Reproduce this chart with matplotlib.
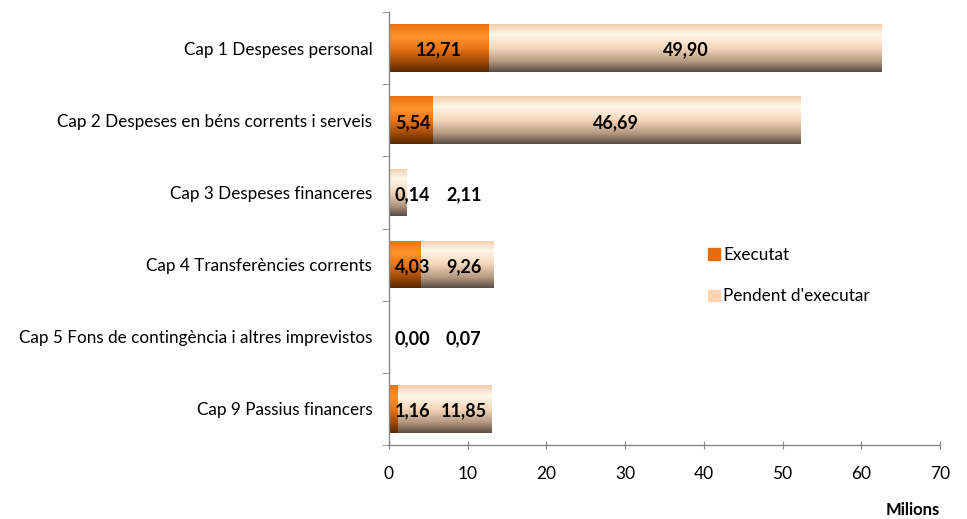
import numpy as np
import matplotlib
matplotlib.use("Agg")
import matplotlib.pyplot as plt
from matplotlib.patches import Rectangle

plt.rcParams['font.family'] = ['Lato', 'DejaVu Sans']

categories = [
    "Cap 1 Despeses personal",
    "Cap 2 Despeses en béns corrents i serveis",
    "Cap 3 Despeses financeres",
    "Cap 4 Transferències corrents",
    "Cap 5 Fons de contingència i altres imprevistos",
    "Cap 9 Passius financers",
]
executat = [12.71, 5.54, 0.14, 4.03, 0.00, 1.16]
pendent = [49.90, 46.69, 2.11, 9.26, 0.07, 11.85]
series_names = ["Executat", "Pendent d'executar"]
xticks = [0, 10, 20, 30, 40, 50, 60, 70]
xlabel = "Milions"

W, H = 967, 519
fig = plt.figure(figsize=(W / 100, H / 100), dpi=100)
ax = fig.add_axes([389 / W, 1 - 445 / H, (940 - 389) / W, (445 - 12) / H])

y = np.arange(len(categories))
bh = 0.66

def hexrgb(h):
    h = h.lstrip('#')
    return np.array([int(h[i:i + 2], 16) / 255 for i in (0, 2, 4)])

def gradient(stops, n=100):
    pos = np.array([s[0] for s in stops])
    cols = np.array([hexrgb(s[1]) for s in stops])
    t = np.linspace(0, 1, n)
    arr = np.stack([np.interp(t, pos, cols[:, k]) for k in range(3)], axis=1)
    return arr[:, None, :]

grad_exec = gradient([(0, '#EC720E'), (0.25, '#FF922C'), (0.5, '#EC7616'),
                      (0.78, '#A04A08'), (1.0, '#552702')])
grad_pend = gradient([(0, '#F4CCAA'), (0.22, '#FFF8EA'), (0.5, '#F6D6BA'),
                      (0.78, '#B49882'), (1.0, '#5A4C44')])

bars1 = ax.barh(y, executat, height=bh, color='#E46C0A', linewidth=0)
bars2 = ax.barh(y, pendent, left=executat, height=bh, color='#FCD5B5', linewidth=0)

for bars, grad in ((bars1, grad_exec), (bars2, grad_pend)):
    for b in bars:
        x0, y0, w, h = b.get_x(), b.get_y(), b.get_width(), b.get_height()
        if w <= 0:
            continue
        im = ax.imshow(grad, extent=(x0, x0 + w, y0 + h, y0), origin='upper',
                       aspect='auto', interpolation='bilinear', zorder=2)
        im.set_clip_path(b)

ax.set_xlim(0, 70)
ax.set_ylim(len(categories) - 0.5, -0.5)
ax.set_aspect('auto')

# value labels
for i, (a, b) in enumerate(zip(executat, pendent)):
    x1 = max(a / 2, 3.0)
    x2 = max(a + b / 2, x1 + 6.5)
    for xv, v in ((x1, a), (x2, b)):
        ax.text(xv, i + 0.03, f"{v:.2f}".replace('.', ','), ha='center', va='center',
                fontsize=13, fontweight='bold', color='black', zorder=5)

ax.set_yticks(y)
ax.set_yticklabels(categories, fontsize=12.3)
ax.set_yticks(np.arange(len(categories) + 1) - 0.5, minor=True)
ax.tick_params(axis='y', which='major', length=0, pad=12)
ax.tick_params(axis='y', which='minor', length=5, color='#868686', direction='out')
ax.set_xticks(xticks)
ax.set_xticklabels([str(t) for t in xticks], fontsize=12.5)
ax.tick_params(axis='x', length=6, color='#868686', pad=12, direction='inout')

for s in ('top', 'right'):
    ax.spines[s].set_visible(False)
for s in ('left', 'bottom'):
    ax.spines[s].set_color('#868686')
    ax.spines[s].set_linewidth(1.0)

handles = [Rectangle((0, 0), 1, 1, color='#E46C0A'),
           Rectangle((0, 0), 1, 1, color='#FCD5B5')]
leg = fig.legend(handles, series_names, loc='upper left',
                 bbox_to_anchor=(701 / W, 1 - 240 / H), frameon=False,
                 fontsize=12.3, handlelength=0.7, handleheight=0.7,
                 handletextpad=0.2, labelspacing=1.5, borderaxespad=0)

fig.text(940 / W, 1 - 510 / H, xlabel, ha='right', va='center',
         fontsize=12, fontweight='bold')

fig.savefig('out.png', dpi=100)
